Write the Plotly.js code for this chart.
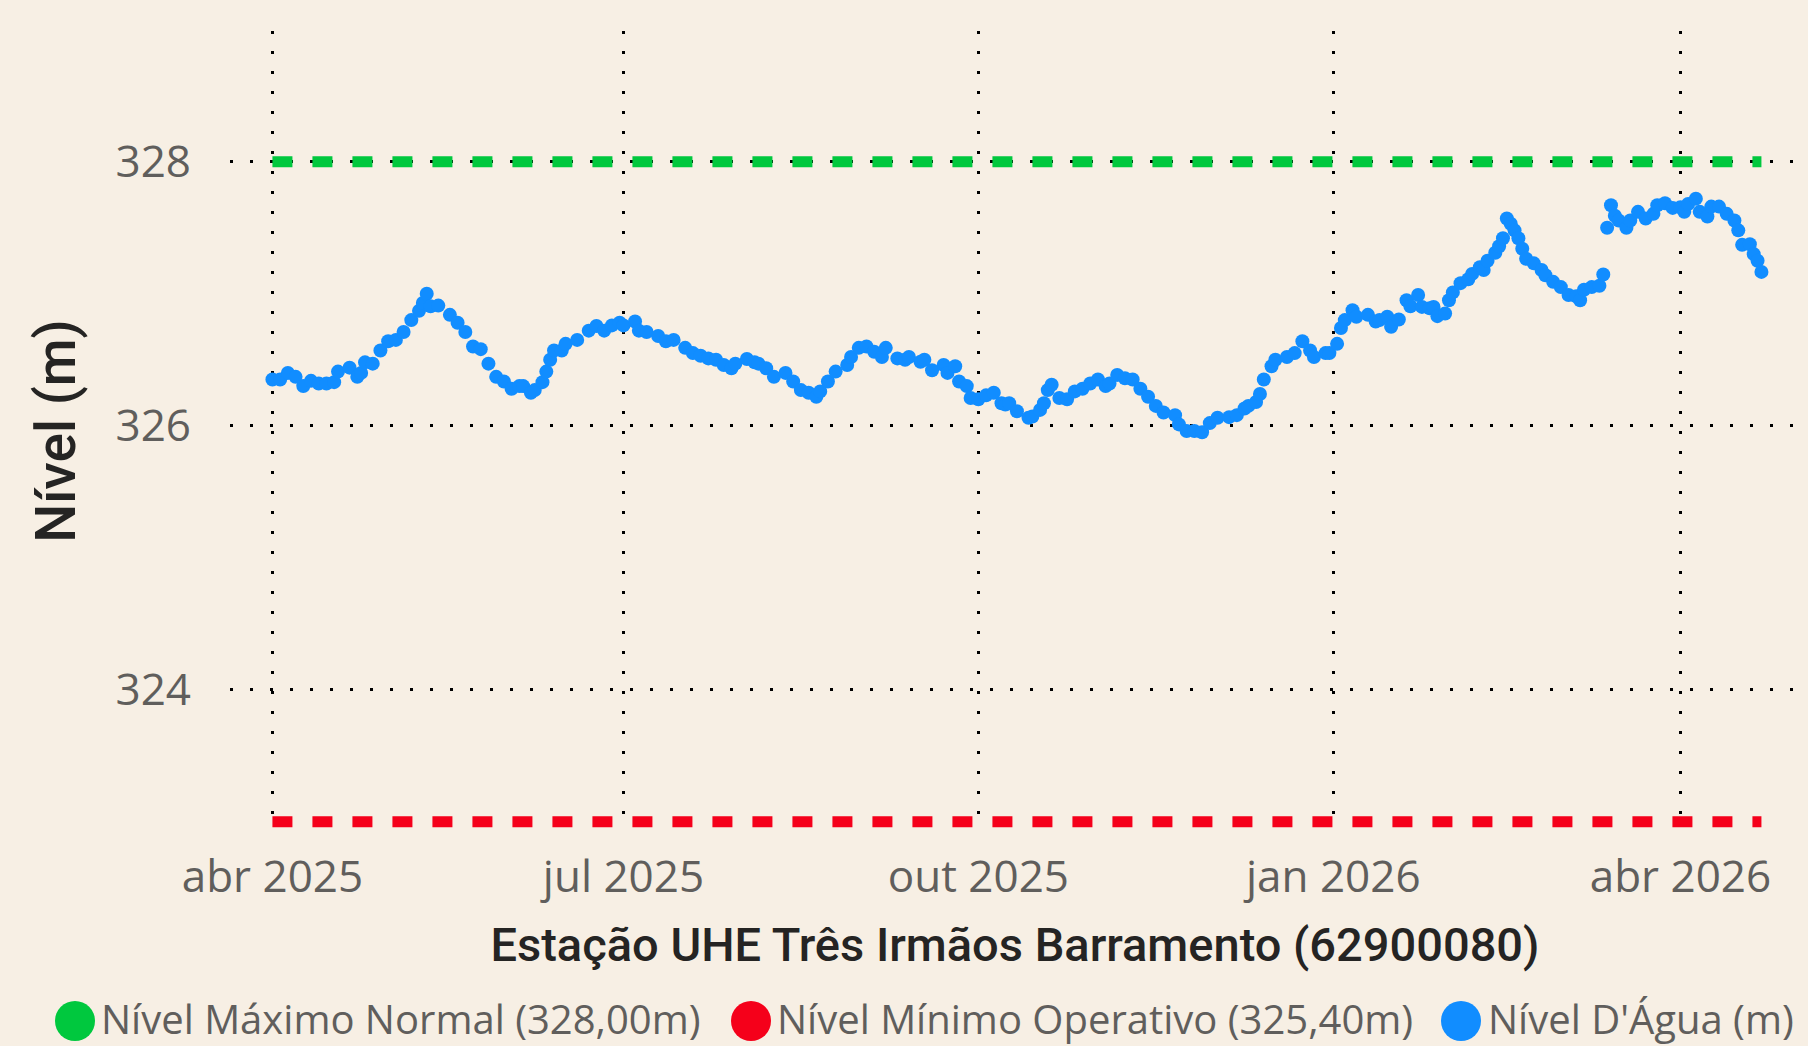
<!DOCTYPE html>
<html>
<head>
<meta charset="utf-8">
<script src="https://cdn.plot.ly/plotly-3.0.1.min.js"></script>
<style>
  html, body { margin: 0; padding: 0; background: #F7EFE4; }
  #chart { width: 1808px; height: 1046px; }
</style>
</head>
<body>
<div id="chart"></div>
<script>
// ---------- DATA ----------
const datas = [
  '2025-04-01','2025-04-03','2025-04-05','2025-04-07','2025-04-09','2025-04-11','2025-04-13','2025-04-15','2025-04-17','2025-04-18',
  '2025-04-21','2025-04-23','2025-04-24','2025-04-25','2025-04-27','2025-04-29','2025-05-01','2025-05-03','2025-05-05','2025-05-07',
  '2025-05-09','2025-05-10','2025-05-11','2025-05-12','2025-05-14','2025-05-17','2025-05-19','2025-05-21','2025-05-23','2025-05-25',
  '2025-05-27','2025-05-29','2025-05-31','2025-06-02','2025-06-04','2025-06-05','2025-06-07','2025-06-08','2025-06-10','2025-06-11',
  '2025-06-12','2025-06-13','2025-06-15','2025-06-16','2025-06-19','2025-06-22','2025-06-24','2025-06-26','2025-06-28','2025-06-30',
  '2025-07-01','2025-07-04','2025-07-05','2025-07-07','2025-07-10','2025-07-12','2025-07-14','2025-07-17','2025-07-19','2025-07-21',
  '2025-07-23','2025-07-25','2025-07-27','2025-07-29','2025-07-30','2025-08-02','2025-08-04','2025-08-05','2025-08-07','2025-08-09',
  '2025-08-12','2025-08-14','2025-08-16','2025-08-18','2025-08-20','2025-08-21','2025-08-23','2025-08-25','2025-08-28','2025-08-29',
  '2025-08-31','2025-09-02','2025-09-04','2025-09-06','2025-09-07','2025-09-10','2025-09-12','2025-09-13','2025-09-16','2025-09-17',
  '2025-09-19','2025-09-22','2025-09-23','2025-09-25','2025-09-26','2025-09-28','2025-09-29','2025-10-01','2025-10-03','2025-10-05',
  '2025-10-07','2025-10-08','2025-10-09','2025-10-11','2025-10-14','2025-10-15','2025-10-17','2025-10-18','2025-10-19','2025-10-20',
  '2025-10-22','2025-10-24','2025-10-26','2025-10-28','2025-10-30','2025-11-01','2025-11-03','2025-11-04','2025-11-06','2025-11-08',
  '2025-11-10','2025-11-12','2025-11-14','2025-11-16','2025-11-18','2025-11-21','2025-11-22','2025-11-24','2025-11-26','2025-11-28',
  '2025-11-30','2025-12-02','2025-12-05','2025-12-07','2025-12-09','2025-12-10','2025-12-12','2025-12-13','2025-12-14','2025-12-16',
  '2025-12-17','2025-12-20','2025-12-22','2025-12-24','2025-12-26','2025-12-27','2025-12-30','2025-12-31','2026-01-02','2026-01-03',
  '2026-01-04','2026-01-06','2026-01-07','2026-01-10','2026-01-12','2026-01-13','2026-01-15','2026-01-16','2026-01-18','2026-01-20',
  '2026-01-21','2026-01-23','2026-01-24','2026-01-26','2026-01-27','2026-01-28','2026-01-30','2026-01-31','2026-02-01','2026-02-03',
  '2026-02-05','2026-02-06','2026-02-08','2026-02-09','2026-02-10','2026-02-12','2026-02-13','2026-02-14','2026-02-15','2026-02-16',
  '2026-02-17','2026-02-18','2026-02-19','2026-02-20','2026-02-22','2026-02-24','2026-02-25','2026-02-27','2026-03-01','2026-03-03',
  '2026-03-05','2026-03-06','2026-03-07','2026-03-09','2026-03-11','2026-03-12','2026-03-13','2026-03-14','2026-03-15','2026-03-16',
  '2026-03-18','2026-03-19','2026-03-21','2026-03-23','2026-03-25','2026-03-26','2026-03-28','2026-03-30','2026-04-01','2026-04-02',
  '2026-04-03','2026-04-05','2026-04-06','2026-04-08','2026-04-09','2026-04-11','2026-04-13','2026-04-15','2026-04-16','2026-04-17',
  '2026-04-19','2026-04-20','2026-04-21','2026-04-22'
];
const nivelAgua = [
  326.35,326.35,326.40,326.37,326.30,326.34,326.32,326.32,326.33,326.41,
  326.44,326.37,326.40,326.48,326.47,326.57,326.64,326.65,326.71,326.80,
  326.87,326.93,327.00,326.905,326.91,326.84,326.78,326.71,326.60,326.58,
  326.47,326.37,326.335,326.28,326.30,326.30,326.25,326.27,326.33,326.41,
  326.50,326.57,326.57,326.62,326.65,326.72,326.755,326.72,326.76,326.78,
  326.76,326.79,326.72,326.71,326.68,326.64,326.65,326.59,326.55,326.53,
  326.51,326.50,326.46,326.435,326.47,326.505,326.48,326.47,326.435,326.37,
  326.40,326.335,326.27,326.25,326.22,326.26,326.335,326.41,326.46,326.52,
  326.59,326.60,326.56,326.52,326.59,326.51,326.50,326.52,326.485,326.50,
  326.42,326.46,326.40,326.45,326.335,326.30,326.21,326.20,326.23,326.25,
  326.17,326.16,326.17,326.11,326.06,326.07,326.12,326.17,326.27,326.31,
  326.21,326.20,326.26,326.28,326.32,326.35,326.30,326.32,326.385,326.36,
  326.35,326.28,326.22,326.15,326.10,326.08,326.01,325.96,325.96,325.95,
  326.02,326.06,326.065,326.08,326.13,326.15,326.18,326.24,326.35,326.45,
  326.50,326.52,326.55,326.64,326.57,326.52,326.55,326.55,326.62,326.74,
  326.80,326.875,326.825,326.84,326.79,326.80,326.825,326.75,326.805,326.95,
  326.905,326.99,326.90,326.89,326.90,326.83,326.85,326.95,327.01,327.08,
  327.11,327.15,327.20,327.18,327.25,327.31,327.36,327.42,327.57,327.53,
  327.48,327.42,327.34,327.265,327.23,327.18,327.14,327.09,327.05,326.99,
  326.98,326.95,327.03,327.05,327.06,327.145,327.50,327.67,327.59,327.555,
  327.50,327.555,327.62,327.57,327.605,327.67,327.685,327.65,327.655,327.62,
  327.68,327.72,327.62,327.585,327.66,327.66,327.605,327.555,327.48,327.37,
  327.375,327.30,327.25,327.165
];
const datasLimites = ['2025-04-01', '2026-04-22'];
const nivelMaximoNormal = [328, 328];
const nivelMinimoOperativo = [323, 323];

const tickDatas = ['2025-04-01', '2025-07-01', '2025-10-01', '2026-01-01', '2026-04-01'];
const tickTextos = ['abr 2025', 'jul 2025', 'out 2025', 'jan 2026', 'abr 2026'];
const tickNiveis = [324, 326, 328];
const tickNiveisTexto = ['324', '326', '328'];

const nomesSeries = ['Nível Máximo Normal (328,00m)', 'Nível Mínimo Operativo (325,40m)', "Nível D'Água (m)"];
const coresSeries = ['#00C83E', '#F5001A', '#118DFF'];

// ---------- LAYOUT GEOMETRY ----------
const W = 1808, H = 1046;
const M = { l: 230, r: 8, t: 31, b: 215 };
const plotW = W - M.l - M.r, plotH = H - M.t - M.b;
const px2paperX = px => (px - M.l) / plotW;
const py2paperY = py => (H - M.b - py) / plotH;

const tickFont = { family: 'Segoe UI, Open Sans, sans-serif', size: 44, color: '#605E5C' };
const titleFont = { family: 'Roboto, DIN, sans-serif', size: 47, color: '#252423', weight: 500 };

const traces = [
  {
    x: datasLimites, y: nivelMaximoNormal, name: nomesSeries[0], type: 'scatter', mode: 'lines',
    line: { color: coresSeries[0], width: 11, dash: '20px,20px' }, showlegend: false, hoverinfo: 'skip'
  },
  {
    x: datasLimites, y: nivelMinimoOperativo, name: nomesSeries[1], type: 'scatter', mode: 'lines',
    line: { color: coresSeries[1], width: 11, dash: '20px,20px' }, showlegend: false, hoverinfo: 'skip'
  },
  {
    x: datas, y: nivelAgua, name: nomesSeries[2], type: 'scatter', mode: 'markers',
    marker: { color: coresSeries[2], size: 14, line: { width: 0 } }, showlegend: false
  }
];

// Legend (large round markers like the reference) built from series names/colours
const legendY = 1019;
const legendItems = [
  { cx: 75, tx: 99 },
  { cx: 751, tx: 775 },
  { cx: 1461, tx: 1486 }
];
const shapes = legendItems.map((it, i) => ({
  type: 'circle', xref: 'paper', yref: 'paper',
  xsizemode: 'pixel', ysizemode: 'pixel',
  xanchor: px2paperX(it.cx), yanchor: py2paperY(legendY + 2),
  x0: -20, x1: 20, y0: -20, y1: 20,
  fillcolor: coresSeries[i], line: { width: 0 }
}));
const annotations = legendItems.map((it, i) => ({
  text: nomesSeries[i], xref: 'paper', yref: 'paper',
  x: px2paperX(it.tx), y: py2paperY(legendY), xanchor: 'left', yanchor: 'middle',
  showarrow: false, font: { family: 'Segoe UI, Open Sans, sans-serif', size: 40, color: '#605E5C' }
}));

const layout = {
  width: W, height: H,
  margin: M,
  paper_bgcolor: '#F7EFE4',
  plot_bgcolor: '#F7EFE4',
  showlegend: false,
  xaxis: {
    type: 'date',
    range: ['2025-03-21', '2026-05-02'],
    tickmode: 'array', tickvals: tickDatas, ticktext: tickTextos,
    tickfont: tickFont, ticks: '', ticklabelstandoff: 16,
    showgrid: true, gridcolor: '#000000', gridwidth: 3, griddash: '3px,17px',
    zeroline: false, showline: false,
    title: { text: 'Estação UHE Três Irmãos Barramento (62900080)', font: titleFont, standoff: 24 }
  },
  yaxis: {
    range: [322.93, 328.99],
    tickmode: 'array', tickvals: tickNiveis, ticktext: tickNiveisTexto,
    tickfont: tickFont, ticks: '', ticklabelstandoff: 38,
    showgrid: true, gridcolor: '#000000', gridwidth: 3, griddash: '3px,17px',
    zeroline: false, showline: false,
    title: { text: 'Nível (m)', font: { family: 'Roboto, DIN, sans-serif', size: 55, color: '#252423', weight: 500 }, standoff: 22 }
  },
  shapes: shapes,
  annotations: annotations
};

Plotly.newPlot('chart', traces, layout, { displayModeBar: false, staticPlot: true });
</script>
</body>
</html>
